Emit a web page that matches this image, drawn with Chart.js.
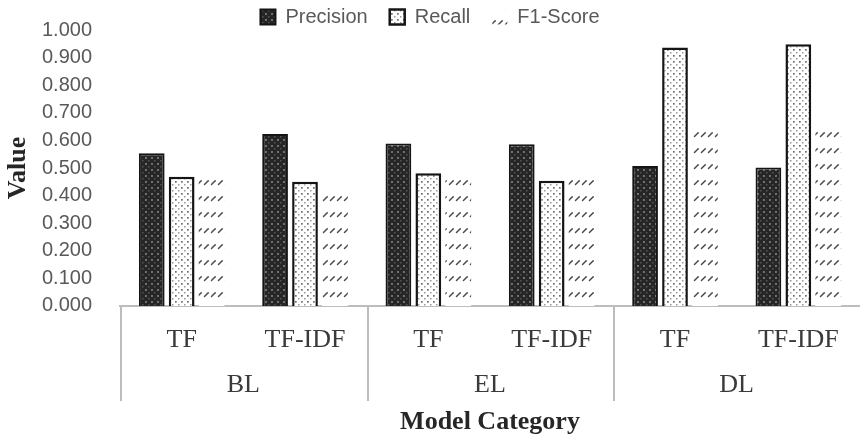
<!DOCTYPE html>
<html>
<head>
<meta charset="utf-8">
<script src="https://cdn.jsdelivr.net/npm/chart.js@4/dist/chart.umd.min.js"></script>
<style>
  html, body { margin: 0; padding: 0; background: #ffffff; }
  canvas { display: block; }
</style>
</head>
<body>
<canvas id="chart" width="860" height="440"></canvas>
<script>
// Feature extraction method per bar group, and the model family each pair belongs to
const methods = ['TF', 'TF-IDF', 'TF', 'TF-IDF', 'TF', 'TF-IDF'];
const modelGroups = ['BL', 'EL', 'DL'];

// Scores per series (BL-TF, BL-TF-IDF, EL-TF, EL-TF-IDF, DL-TF, DL-TF-IDF)
const precision = [0.553, 0.623, 0.589, 0.586, 0.507, 0.502];
const recall    = [0.468, 0.450, 0.481, 0.454, 0.937, 0.948];
const f1Score   = [0.462, 0.418, 0.471, 0.457, 0.647, 0.640];

// Value axis range and step
const yMin = 0;
const yMax = 1;
const yStep = 0.1;

// --- fill patterns -------------------------------------------------------
function makeTile(w, h, paint) {
  const c = document.createElement('canvas');
  c.width = w; c.height = h;
  const g = c.getContext('2d');
  paint(g);
  return document.getElementById('chart').getContext('2d').createPattern(c, 'repeat');
}

// dark fill with a light dot grid
const darkDots = makeTile(6, 6, g => {
  g.fillStyle = '#262626';
  g.fillRect(0, 0, 6, 6);
  g.fillStyle = '#707070';
  g.fillRect(1, 1, 2, 2);
  g.fillStyle = '#555555';
  g.fillRect(4, 4, 1.5, 1.5);
});

// white fill with a grey dot grid
const lightDots = makeTile(6, 6, g => {
  g.fillStyle = '#ffffff';
  g.fillRect(0, 0, 6, 6);
  g.fillStyle = '#6e6e6e';
  g.fillRect(1, 1, 1.7, 1.7);
  g.fillStyle = '#9a9a9a';
  g.fillRect(4, 4, 1.5, 1.5);
});

// rows of short diagonal strokes
const slashes = makeTile(7, 16, g => {
  g.fillStyle = '#ffffff';
  g.fillRect(0, 0, 7, 16);
  g.strokeStyle = '#4a4a4a';
  g.lineWidth = 1.5;
  g.lineCap = 'round';
  g.beginPath();
  g.moveTo(1.5, 8.5);
  g.lineTo(5.2, 4.8);
  g.stroke();
});

// --- group dividers below the category axis --------------------------------
const groupDividers = {
  id: 'groupDividers',
  afterDraw(chart) {
    const x = chart.scales.x;
    const x2 = chart.scales.x2;
    const ctx = chart.ctx;
    const t = x2.options.ticks;
    const lh = t.font.size * t.font.lineHeight;
    const labelBottom = x2.top + 2 * t.padding + lh + 5;
    ctx.save();
    ctx.strokeStyle = '#bdbdbd';
    ctx.lineWidth = 2;
    // left edge of every model group
    for (let i = 0; i < modelGroups.length; i++) {
      const px = Math.round(x2.getPixelForValue(i - 0.5)) + 1;
      ctx.beginPath();
      ctx.moveTo(px, x.top);
      ctx.lineTo(px, labelBottom);
      ctx.stroke();
    }
    ctx.restore();
  }
};

const serif = '"Liberation Serif", "Times New Roman", serif';
const sans = '"Liberation Sans", Arial, sans-serif';

new Chart(document.getElementById('chart'), {
  type: 'bar',
  data: {
    labels: methods,
    datasets: [
      {
        label: 'Precision',
        data: precision,
        backgroundColor: darkDots,
        borderColor: '#151515',
        borderWidth: 2,
        xAxisID: 'x'
      },
      {
        label: 'Recall',
        data: recall,
        backgroundColor: lightDots,
        borderColor: '#151515',
        borderWidth: 2.5,
        xAxisID: 'x'
      },
      {
        label: 'F1-Score',
        data: f1Score,
        backgroundColor: slashes,
        borderWidth: 0,
        xAxisID: 'x'
      }
    ]
  },
  options: {
    responsive: false,
    devicePixelRatio: 1,
    animation: false,
    categoryPercentage: 0.728,
    barPercentage: 0.86,
    layout: { padding: { top: -15, left: 0, right: 0, bottom: 0 } },
    plugins: {
      tooltip: { enabled: false },
      legend: {
        position: 'top',
        maxHeight: 45,
        labels: {
          font: { family: sans, size: 20 },
          color: '#595959',
          boxWidth: 15,
          boxHeight: 15,
          padding: 22
        }
      }
    },
    scales: {
      x: {
        position: 'bottom',
        grid: { display: false, drawTicks: false },
        border: { display: true, color: '#bdbdbd', width: 2 },
        ticks: {
          font: { family: serif, size: 26 },
          color: '#3a3a3a',
          padding: 18.4,
          maxRotation: 0,
          autoSkip: false
        }
      },
      x2: {
        type: 'category',
        position: 'bottom',
        labels: modelGroups,
        offset: true,
        grid: { display: false, drawTicks: false },
        border: { display: false },
        ticks: {
          font: { family: serif, size: 26, lineHeight: 0.77 },
          color: '#3a3a3a',
          padding: 1,
          maxRotation: 0
        },
        title: {
          display: true,
          text: 'Model Category',
          font: { family: serif, size: 26, weight: 'bold' },
          color: '#262626',
          padding: { top: 10.4, bottom: 2.4 }
        }
      },
      y: {
        min: yMin,
        max: yMax,
        afterFit: scale => { scale.width = 120; },
        grid: { display: false, drawTicks: false },
        border: { display: false },
        ticks: {
          stepSize: yStep,
          autoSkip: false,
          font: { family: sans, size: 20, lineHeight: 0.1 },
          color: '#595959',
          padding: 28,
          callback: v => Number(v).toFixed(3)
        },
        title: {
          display: true,
          text: 'Value',
          font: { family: serif, size: 26, weight: 'bold' },
          color: '#262626',
          padding: { top: 2.4, bottom: 0 }
        }
      }
    }
  },
  plugins: [groupDividers]
});
</script>
</body>
</html>
